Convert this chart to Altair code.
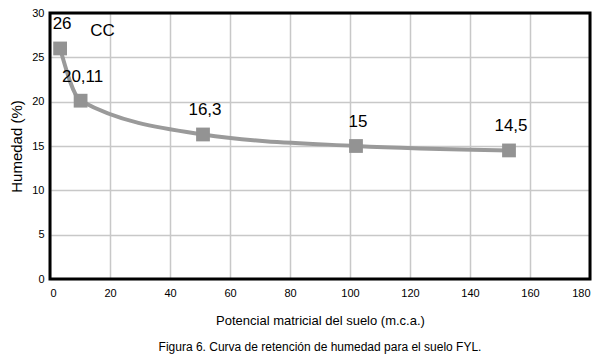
import altair as alt
import pandas as pd

potencial = [3.37, 10.2, 51, 102, 153]
humedad = [26, 20.11, 16.3, 15, 14.5]
etiquetas = ["26", "20,11", "16,3", "15", "14,5"]

df = pd.DataFrame({"x": potencial, "y": humedad, "lab": etiquetas})
cc = pd.DataFrame({"x": [17.5], "y": [28], "lab": ["CC"]})

FONT = "Liberation Sans"

xs = alt.X("x:Q", scale=alt.Scale(domain=[0, 180], nice=False),
           axis=alt.Axis(values=list(range(0, 181, 20)), title="Potencial matricial del suelo (m.c.a.)",
                         titleFontSize=13, titleFontWeight="normal", titlePadding=16,
                         labelFontSize=11, labelPadding=8, ticks=False, domain=False,
                         labelColor="black", titleColor="black",
                         gridColor="#c8c8c8", gridWidth=1.5))
ys = alt.Y("y:Q", scale=alt.Scale(domain=[0, 30], nice=False),
           axis=alt.Axis(values=list(range(0, 31, 5)), title="Humedad (%)",
                         titleFontSize=15, titleFontWeight="normal", titlePadding=7,
                         labelFontSize=11, labelPadding=6, ticks=False, domain=False,
                         labelColor="black", titleColor="black",
                         gridColor="#c8c8c8", gridWidth=1.5))

base = alt.Chart(df)
line = base.mark_line(color="#9a9a9a", strokeWidth=4, interpolate="monotone").encode(x=xs, y=ys)
pts = base.mark_point(shape="square", filled=True, size=190, color="#939393", opacity=1).encode(x="x:Q", y="y:Q")
labels = base.mark_text(fontSize=17, font=FONT, dy=-24, dx=2, color="black").encode(x="x:Q", y="y:Q", text="lab:N")
cct = alt.Chart(cc).mark_text(fontSize=17, font=FONT, color="black").encode(x="x:Q", y="y:Q", text="lab:N")
frame = alt.Chart(cc).mark_rect(fill=None, stroke="black", strokeWidth=3).encode(
    x=alt.value(0), x2=alt.value(540), y=alt.value(0), y2=alt.value(266))

chart = alt.layer(line, pts, labels, cct, frame).properties(
    width=540, height=266,
    title=alt.TitleParams("Figura 6. Curva de retención de humedad para el suelo FYL.",
                          orient="bottom", fontSize=12, fontWeight="normal", font=FONT,
                          color="black", offset=15, anchor="middle"),
    autosize=alt.AutoSizeParams(type="none"),
    padding={"left": 42, "top": 5, "right": 9, "bottom": 76},
).configure_view(stroke=None).configure(font=FONT)

chart.save("out.html", embed_options={"renderer": "svg", "actions": False})
